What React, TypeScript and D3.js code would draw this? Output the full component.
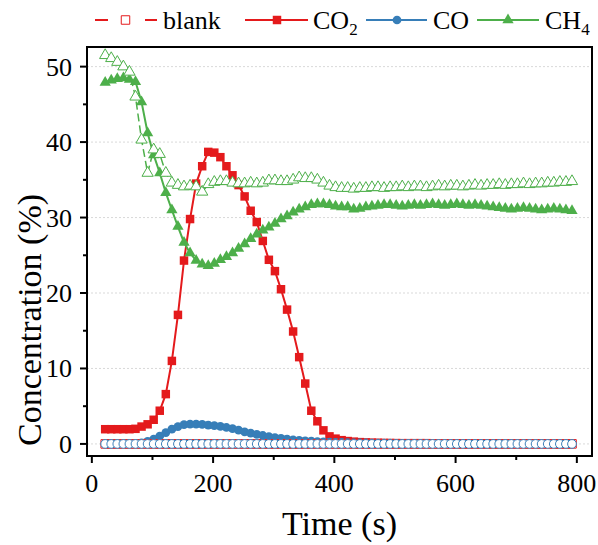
import React from "react";
import * as d3 from "d3";

const times = [22,32,42,52,62,72,82,92,102,112,122,132,142,152,162,172,182,192,202,212,222,232,242,252,262,272,282,292,302,312,322,332,342,352,362,372,382,392,402,412,422,432,442,452,462,472,482,492,502,512,522,532,542,552,562,572,582,592,602,612,622,632,642,652,662,672,682,692,702,712,722,732,742,752,762,772,782,792];

const co2 = [1.95,1.95,1.95,1.95,1.95,2.0,2.3,2.6,3.2,4.4,6.6,11.0,17.1,24.3,29.8,34.5,36.8,38.7,38.6,38.0,36.8,35.6,34.3,32.8,30.9,29.4,26.9,24.4,22.9,20.5,17.8,14.9,11.5,8.0,4.4,3.0,1.8,1.0,0.7,0.5,0.38,0.3,0.24,0.2,0.17,0.15,0.13,0.12,0.11,0.1,0.1,0.1,0.1,0.1,0.09,0.09,0.09,0.09,0.08,0.08,0.08,0.08,0.08,0.07,0.07,0.07,0.07,0.07,0.06,0.06,0.06,0.06,0.06,0.05,0.05,0.05,0.05,0.05];

const co = [0.02,0.02,0.03,0.03,0.05,0.08,0.15,0.35,0.65,1.05,1.5,1.95,2.3,2.55,2.62,2.62,2.58,2.5,2.42,2.32,2.18,2.02,1.82,1.6,1.42,1.26,1.12,0.98,0.85,0.74,0.64,0.55,0.48,0.42,0.36,0.31,0.27,0.24,0.21,0.19,0.17,0.15,0.14,0.13,0.12,0.11,0.1,0.1,0.09,0.09,0.09,0.08,0.08,0.08,0.08,0.07,0.07,0.07,0.07,0.07,0.06,0.06,0.06,0.06,0.06,0.06,0.05,0.05,0.05,0.05,0.05,0.05,0.05,0.05,0.05,0.05,0.05,0.05];

const ch4 = [47.9,48.2,48.4,48.5,48.3,48.0,45.3,41.2,38.3,35.9,33.3,31.0,28.8,26.7,25.3,24.3,23.8,23.6,23.9,24.4,24.8,25.3,25.9,26.5,27.2,27.8,28.3,28.7,29.2,29.8,30.2,30.7,31.1,31.4,31.7,31.8,31.8,31.7,31.5,31.4,31.4,31.1,31.2,31.4,31.5,31.6,31.7,31.7,31.6,31.5,31.6,31.7,31.6,31.7,31.8,31.7,31.6,31.7,31.8,31.7,31.6,31.7,31.6,31.5,31.4,31.3,31.2,31.1,31.2,31.3,31.2,31.1,31.0,31.1,31.2,31.1,31.0,30.9];

const blankCH4 = [51.5,51.1,50.6,50.0,49.3,46.0,40.3,35.9,39.0,38.4,35.9,34.6,34.3,34.1,34.2,34.1,33.4,34.4,34.7,34.8,34.8,34.6,34.5,34.5,34.6,34.5,34.6,34.9,34.9,34.8,34.8,35.0,35.3,35.2,35.2,35.0,34.6,34.2,34.0,33.9,33.9,33.8,33.9,33.9,34.0,34.0,33.9,34.0,34.0,34.1,34.0,34.1,34.1,34.0,34.1,34.2,34.1,34.2,34.2,34.1,34.2,34.3,34.2,34.3,34.3,34.4,34.3,34.4,34.4,34.5,34.4,34.5,34.5,34.6,34.6,34.7,34.7,34.8];

const blankCO2 = times.map(() => 0);
const blankCO = times.map(() => 0);

const xTicks = [0, 200, 400, 600, 800];
const xMinor = [100, 300, 500, 700];
const yTicks = [0, 10, 20, 30, 40, 50];
const yMinor = [5, 15, 25, 35, 45];

const RED = "#e41a1c";
const BLUE = "#377eb8";
const GREEN = "#4daf4a";
const FONT = "'Times New Roman', Times, 'Liberation Serif', Tinos, 'DejaVu Serif', serif";
const tstyle = { fontFamily: FONT };

const L = 87, R = 592, T = 47, B = 456;

export default function App() {
  const x = d3.scaleLinear().domain([-8, 825]).range([L, R]);
  const y = d3.scaleLinear().domain([-1.6, 52.6]).range([B, T]);
  const line = (vals: number[]) =>
    d3.line<number>().x((_, i) => x(times[i])).y((d) => y(d))(vals) || "";
  const sq = d3.symbol().type(d3.symbolSquare).size(72)() || "";
  const circ = d3.symbol().type(d3.symbolCircle).size(60)() || "";
  const tri = d3.symbol().type(d3.symbolTriangle).size(55)() || "";

  const markers = (vals: number[], path: string, fill: string, stroke: string, sw: number) =>
    vals.map((v, i) => (
      <path key={i} d={path} transform={`translate(${x(times[i])},${y(v)})`} fill={fill} stroke={stroke} strokeWidth={sw} />
    ));

  const ly = 20;
  return (
    <svg width={598} height={545} style={{ display: "block", position: "absolute", left: 0, top: 0 }}>
      <rect x={0} y={0} width={598} height={545} fill="#fff" />
      {yTicks.map((t) => (
        <line key={t} x1={L} x2={R} y1={y(t)} y2={y(t)} stroke="#cfcfcf" strokeWidth={0.8} strokeDasharray="2,2" />
      ))}
      <path d={line(co2)} fill="none" stroke={RED} strokeWidth={2} />
      {markers(co2, sq, RED, "none", 0)}
      <path d={line(co)} fill="none" stroke={BLUE} strokeWidth={1.5} />
      {markers(co, circ, BLUE, "none", 0)}
      <path d={line(ch4)} fill="none" stroke={GREEN} strokeWidth={2} />
      {markers(ch4, tri, GREEN, "none", 0)}
      <path d={line(blankCO2)} fill="none" stroke={RED} strokeWidth={1.5} strokeDasharray="8,4" />
      {markers(blankCO2, sq, "#fff", RED, 1)}
      <path d={line(blankCO)} fill="none" stroke={BLUE} strokeWidth={1} />
      {markers(blankCO, circ, "#fff", BLUE, 1)}
      <path d={line(blankCH4)} fill="none" stroke={GREEN} strokeWidth={1.5} strokeDasharray="8,4" />
      {markers(blankCH4, tri, "#fff", GREEN, 1)}
      <rect x={L} y={T} width={R - L} height={B - T} fill="none" stroke="#000" strokeWidth={2} />
      {xTicks.map((t) => (
        <g key={t}>
          <line x1={x(t)} x2={x(t)} y1={B} y2={B + 7} stroke="#000" strokeWidth={2} />
          <text x={x(t)} y={492} textAnchor="middle" fontSize={26} fill="#000" style={tstyle}>{t}</text>
        </g>
      ))}
      {xMinor.map((t) => (
        <line key={t} x1={x(t)} x2={x(t)} y1={B} y2={B + 4} stroke="#000" strokeWidth={2} />
      ))}
      {yTicks.map((t) => (
        <g key={t}>
          <line x1={L - 7} x2={L} y1={y(t)} y2={y(t)} stroke="#000" strokeWidth={2} />
          <text x={72} y={y(t) + 9} textAnchor="end" fontSize={26} fill="#000" style={tstyle}>{t}</text>
        </g>
      ))}
      {yMinor.map((t) => (
        <line key={t} x1={L - 4} x2={L} y1={y(t)} y2={y(t)} stroke="#000" strokeWidth={2} />
      ))}
      <text x={(L + R) / 2} y={535} textAnchor="middle" fontSize={34} fill="#000" style={tstyle}>Time (s)</text>
      <text transform={`translate(41,320) rotate(-90)`} textAnchor="middle" fontSize={34} fill="#000" style={tstyle}>Concentration (%)</text>
      <g>
        <line x1={95} x2={108} y1={ly} y2={ly} stroke={RED} strokeWidth={2} />
        <line x1={145} x2={157} y1={ly} y2={ly} stroke={RED} strokeWidth={2} />
        <path d={sq} transform={`translate(125.5,${ly})`} fill="#fff" stroke={RED} strokeWidth={1} />
        <text x={163} y={29} fontSize={26} fill="#000" style={tstyle}>blank</text>

        <line x1={245} x2={308} y1={ly} y2={ly} stroke={RED} strokeWidth={2} />
        <path d={sq} transform={`translate(277,${ly})`} fill={RED} />
        <text x={313} y={29} fontSize={26} fill="#000" style={tstyle}>CO<tspan fontSize={17} dy={6}>2</tspan></text>

        <line x1={366} x2={427} y1={ly} y2={ly} stroke={BLUE} strokeWidth={2} />
        <path d={circ} transform={`translate(397,${ly})`} fill={BLUE} />
        <text x={433} y={29} fontSize={26} fill="#000" style={tstyle}>CO</text>

        <line x1={477} x2={539} y1={ly} y2={ly} stroke={GREEN} strokeWidth={2} />
        <path d={tri} transform={`translate(508,${ly})`} fill={GREEN} />
        <text x={545} y={29} fontSize={26} fill="#000" style={tstyle}>CH<tspan fontSize={17} dy={6}>4</tspan></text>
      </g>
    </svg>
  );
}
